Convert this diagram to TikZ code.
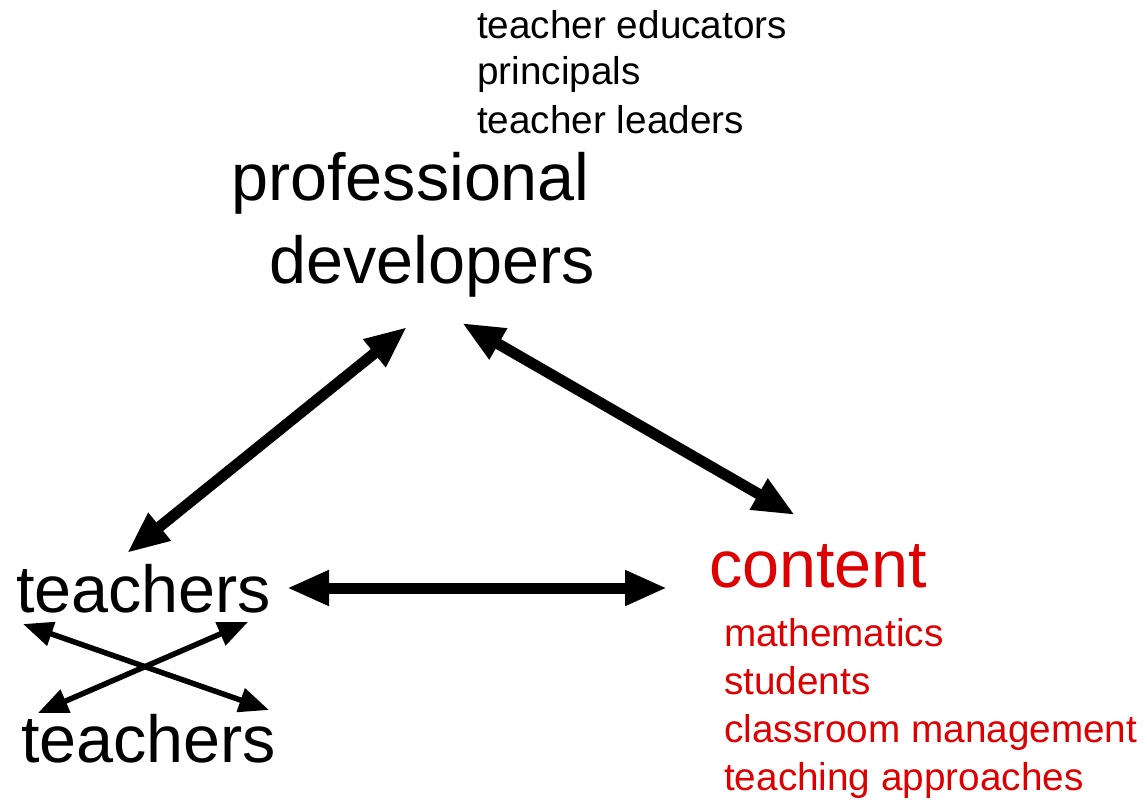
\documentclass[tikz,border=0pt]{standalone}
\usepackage{fontspec}
\setmainfont{Liberation Sans}
\usetikzlibrary{arrows.meta}
\definecolor{cred}{RGB}{222,0,0}
\tikzset{
  big/.style={font=\fontsize{66.5}{80}\selectfont, inner sep=0pt, anchor=base west},
  small/.style={font=\fontsize{38.7}{46}\selectfont, inner sep=0pt, anchor=base west},
  thick arrow/.style={line width=11pt, {Triangle[length=42pt,width=33pt]}-{Triangle[length=42pt,width=33pt]}},
  thin arrow/.style={line width=5.5pt, {Triangle[length=30pt,width=24pt]}-{Triangle[length=30pt,width=24pt]}},
}
\begin{document}
\begin{tikzpicture}[x=1pt,y=-1pt]
\useasboundingbox[fill=white] (0,0) rectangle (1145,801);
% top list
\node[small] (te) at (477,38) {teacher educators};
\node[small] (pr) at (477,84) {principals};
\node[small] (tl) at (477,133) {teacher leaders};
% professional developers
\node[big] (pd1) at (231,200) {professional};
\node[big] (pd2) at (269,283) {developers};
% teachers
\node[big] (t1) at (16,612) {teachers};
\node[big] (t2) at (21,762) {teachers};
% content
\node[big, text=cred] (ct) at (709,587) {content};
\node[small, text=cred] (m1) at (724,646) {mathematics};
\node[small, text=cred] (m2) at (724,694) {students};
\node[small, text=cred] (m3) at (724,742) {classroom management};
\node[small, text=cred] (m4) at (724,790) {teaching approaches};
% arrow ends
\coordinate (pdL) at (407,327);
\coordinate (pdR) at (462,323);
\coordinate (t1N) at (127,553);
\coordinate (t1E) at (287,588);
\coordinate (ctW) at (667,588);
\coordinate (ctN) at (795,515);
\coordinate (t1SW) at (23,624);
\coordinate (t1SE) at (248,622);
\coordinate (t2NW) at (38,713);
\coordinate (t2NE) at (269,710);
\draw[thick arrow] (t1N) -- (pdL);
\draw[thick arrow] (pdR) -- (ctN);
\draw[thick arrow] (t1E) -- (ctW);
\draw[thin arrow] (t1SW) -- (t2NE);
\draw[thin arrow] (t1SE) -- (t2NW);
\end{tikzpicture}
\end{document}
